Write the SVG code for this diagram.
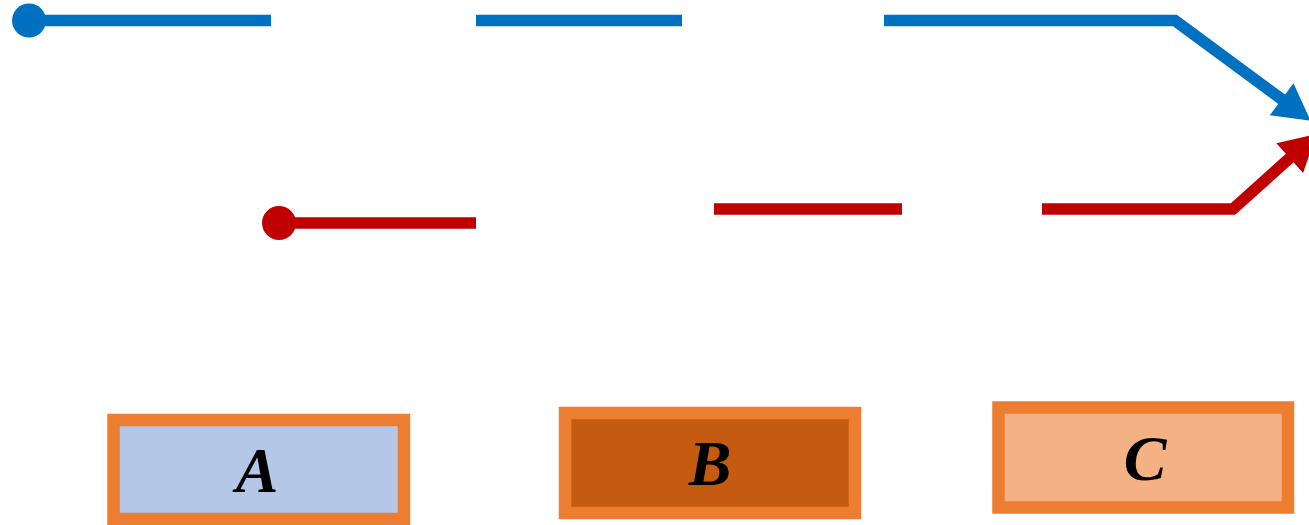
<svg xmlns="http://www.w3.org/2000/svg" width="1309" height="525" viewBox="0 0 1309 525">
  <style>
    .node rect { stroke: #ED7D31; stroke-width: 12.5; }
    .node text { font-family: "Liberation Serif", "Times New Roman", serif; font-weight: bold; font-style: italic; font-size: 64px; fill: #000000; text-anchor: middle; }
    .conn { fill: none; stroke-width: 11.5; stroke-linecap: butt; stroke-linejoin: miter; }
  </style>
  <defs>
    <marker id="dotBlue" markerUnits="userSpaceOnUse" markerWidth="40" markerHeight="40" refX="20" refY="20" orient="auto" overflow="visible">
      <circle cx="20" cy="20" r="17" fill="#0070C0"/>
    </marker>
    <marker id="dotRed" markerUnits="userSpaceOnUse" markerWidth="40" markerHeight="40" refX="20" refY="20" orient="auto" overflow="visible">
      <circle cx="20" cy="20" r="17" fill="#C00000"/>
    </marker>
    <marker id="arrowBlue" markerUnits="userSpaceOnUse" markerWidth="40" markerHeight="40" refX="3" refY="20" orient="auto" overflow="visible">
      <path d="M0,0 L36,20 L0,40 Z" fill="#0070C0"/>
    </marker>
    <marker id="arrowRed" markerUnits="userSpaceOnUse" markerWidth="40" markerHeight="40" refX="3" refY="20" orient="auto" overflow="visible">
      <path d="M0,0 L36,20 L0,40 Z" fill="#C00000"/>
    </marker>
  </defs>
  <g id="connectors">
    <path class="conn" stroke="#0070C0" marker-start="url(#dotBlue)" marker-end="url(#arrowBlue)" d="M29,20.5 H271 M476,20.5 H682 M884,20.5 H1175 L1284,101"/>
    <path class="conn" stroke="#C00000" marker-start="url(#dotRed)" marker-end="url(#arrowRed)" d="M279,223 H476 M714,209 H902 M1042,209 H1233 L1292,156"/>
  </g>
  <g id="node-A" class="node">
    <rect x="113.5" y="420" width="290.5" height="99" fill="#B4C7E7"/>
    <text x="257" y="492">A</text>
  </g>
  <g id="node-B" class="node">
    <rect x="565" y="413" width="290" height="100" fill="#C55A11"/>
    <text x="710" y="485">B</text>
  </g>
  <g id="node-C" class="node">
    <rect x="998.5" y="407.5" width="289.5" height="100" fill="#F4B183"/>
    <text x="1145" y="480">C</text>
  </g>
</svg>
